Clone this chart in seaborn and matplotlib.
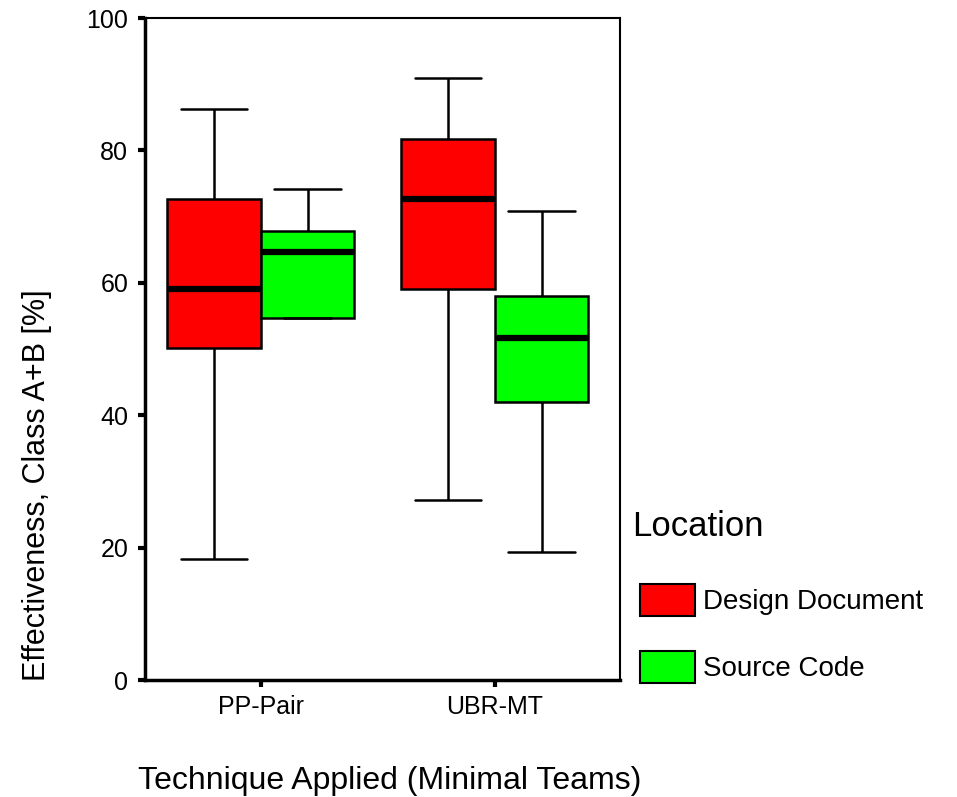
import numpy as np
import pandas as pd
import matplotlib
matplotlib.use("Agg")
import matplotlib.pyplot as plt
import seaborn as sns

# Five-number summaries (min, Q1, median, Q3, max) per technique / location
techniques = ["PP-Pair", "UBR-MT"]
locations = ["Design Document", "Source Code"]
pp_design = [18.3, 50.1, 59.1, 72.7, 86.3]
pp_source = [54.7, 54.7, 64.6, 67.8, 74.1]
ubr_design = [27.2, 59.0, 72.7, 81.7, 90.9]
ubr_source = [19.4, 42.0, 51.6, 58.0, 70.9]

rows = []
for tech, loc, vals in [
    ("PP-Pair", "Design Document", pp_design),
    ("PP-Pair", "Source Code", pp_source),
    ("UBR-MT", "Design Document", ubr_design),
    ("UBR-MT", "Source Code", ubr_source),
]:
    for v in vals:
        rows.append({"Technique": tech, "Location": loc, "Effectiveness": v})
df = pd.DataFrame(rows)

sns.set_style("white")
plt.rcParams["font.family"] = ["Liberation Sans", "DejaVu Sans"]
plt.rcParams["text.color"] = "black"
plt.rcParams["axes.labelcolor"] = "black"
plt.rcParams["xtick.color"] = "black"
plt.rcParams["ytick.color"] = "black"

fig = plt.figure(figsize=(9.57, 7.97), dpi=100)
ax = fig.add_axes([145 / 957, 1 - 680 / 797, 475 / 957, 662 / 797])

palette = {"Design Document": "#ff0000", "Source Code": "#00ff00"}
sns.boxplot(
    data=df, x="Technique", y="Effectiveness", hue="Location",
    order=techniques, hue_order=locations, palette=palette,
    width=0.8, gap=0, whis=(0, 100), linecolor="black", linewidth=1.8,
    saturation=1, medianprops={"linewidth": 4.5, "color": "black"},
    ax=ax,
)

# Narrow the whisker caps
cap_levels = {pp_design[0], pp_design[4], pp_source[4], ubr_design[0],
              ubr_design[4], ubr_source[0], ubr_source[4]}
for line in ax.lines:
    xd = np.asarray(line.get_xdata(), dtype=float)
    yd = np.asarray(line.get_ydata(), dtype=float)
    if len(xd) == 2 and yd[0] == yd[1] and xd[1] != xd[0] and yd[0] in cap_levels:
        c = xd.mean()
        line.set_xdata([c - 0.143, c + 0.143])

ax.set_ylim(0, 100)
ax.set_xlim(-0.495, 1.535)
ax.set_yticks([0, 20, 40, 60, 80, 100])
ax.tick_params(axis="both", which="major", labelsize=18, length=5, width=3,
               direction="out", colors="black", pad=7)
ax.tick_params(axis="y", left=True)
ax.tick_params(axis="x", bottom=True, pad=6)

for side in ["left", "bottom"]:
    ax.spines[side].set_linewidth(2.5)
    ax.spines[side].set_color("black")
for side in ["top", "right"]:
    ax.spines[side].set_linewidth(1.5)
    ax.spines[side].set_color("black")

ax.set_ylabel("Effectiveness, Class A+B [%]", fontsize=22)
ax.yaxis.set_label_coords(-0.196, 0.295)
ax.set_xlabel("Technique Applied (Minimal Teams)", fontsize=23)
ax.xaxis.set_label_coords(0.516, -0.13)

handles, labels = ax.get_legend_handles_labels()
if ax.get_legend() is not None:
    ax.get_legend().remove()
leg = ax.legend(
    handles, labels, loc="upper left",
    bbox_to_anchor=(1.042, 0.145), frameon=False, fontsize=20,
    handlelength=1.98, handleheight=1.39,
    labelspacing=1.26, handletextpad=0.29, borderpad=0, borderaxespad=0,
)
for h in leg.legend_handles:
    h.set_edgecolor("black")
    h.set_linewidth(1.5)

fig.text(632 / 957, 1 - 527 / 797, "Location", fontsize=25,
         ha="left", va="center")

fig.savefig("out.png", dpi=100)
